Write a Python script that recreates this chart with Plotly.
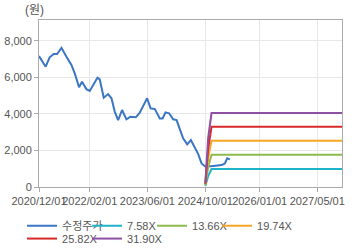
import plotly.graph_objects as go

price_dates = ["2020-12-01","2021-01-26","2021-03-01","2021-04-04","2021-05-02","2021-06-08",
               "2021-07-20","2021-08-31","2021-09-28","2021-11-03","2021-11-28","2022-01-04",
               "2022-02-01","2022-03-07","2022-04-07","2022-04-26","2022-05-30","2022-07-05",
               "2022-08-03","2022-08-31","2022-09-28","2022-10-31","2022-12-07","2023-01-10",
               "2023-02-24","2023-03-29","2023-05-02","2023-05-30","2023-06-28","2023-08-03",
               "2023-09-14","2023-10-07","2023-11-01","2023-12-01","2024-01-04","2024-02-02",
               "2024-03-28","2024-05-01","2024-06-01","2024-07-05","2024-08-02","2024-08-30",
               "2024-10-03","2024-12-06","2025-02-15","2025-03-14","2025-04-03","2025-04-26"]
price_values = [7160,6575,7090,7270,7270,7610,
                7120,6670,6210,5450,5750,5350,
                5250,5630,5970,5880,4880,5080,
                4850,4110,3660,4210,3700,3840,
                3810,4060,4535,4850,4300,4260,
                3750,3750,4080,4030,3700,3660,
                2660,2330,2570,2170,1800,1290,
                1110,1150,1200,1290,1570,1510]

band_dates = ["2024-10-01","2024-10-25","2024-11-22","2027-11-25"]
band_names = ["7.58X","13.66X","19.74X","25.82X","31.90X"]
band_7_58 = [50, 600, 985, 985]
band_13_66 = [95, 1100, 1765, 1765]
band_19_74 = [140, 1600, 2530, 2530]
band_25_82 = [180, 2100, 3295, 3295]
band_31_90 = [225, 2700, 4045, 4045]
band_values = [band_7_58, band_13_66, band_19_74, band_25_82, band_31_90]
band_colors = ["#1db3c9", "#8dbb4e", "#f6a623", "#d9292a", "#8e50a3"]
band_legend_rows = ["legend", "legend", "legend", "legend2", "legend2"]

x_tickvals = ["2020-12-01","2022-02-01","2023-06-01","2024-10-01","2026-01-01","2027-05-01"]
x_ticktext = ["2020/12/01","2022/02/01","2023/06/01","2024/10/01","2026/01/01","2027/05/01"]
y_tickvals = [0, 2000, 4000, 6000, 8000]

FONT = "Liberation Sans, Arial, Noto Sans CJK KR, sans-serif"

fig = go.Figure()
fig.add_trace(go.Scatter(x=price_dates, y=price_values, mode="lines", name="수정주가",
                         line=dict(color="#3a76c4", width=2), legend="legend"))
for name, vals, col, lg in zip(band_names, band_values, band_colors, band_legend_rows):
    fig.add_trace(go.Scatter(x=band_dates, y=vals, mode="lines", name=name,
                             line=dict(color=col, width=2), legend=lg))
# invisible spacer entries so the last real legend entry in each row is not clipped
for lg in ["legend", "legend2"]:
    fig.add_trace(go.Scatter(x=[None], y=[None], mode="lines", name=" ", legend=lg,
                             line=dict(color="rgba(0,0,0,0)", width=0),
                             hoverinfo="skip", showlegend=True))

legend_common = dict(orientation="h", x=-0.056, xanchor="left", yanchor="top",
                     entrywidth=20, font=dict(size=11, color="#555"),
                     itemwidth=30, tracegroupgap=0, bgcolor="rgba(0,0,0,0)",
                     itemclick=False, itemdoubleclick=False)

fig.update_layout(
    width=360, height=248,
    margin=dict(l=39, r=18, t=20, b=61, autoexpand=False),
    paper_bgcolor="white", plot_bgcolor="white",
    font=dict(family=FONT, size=11, color="#555"),
    showlegend=True,
    legend=dict(y=-0.145, **legend_common),
    legend2=dict(y=-0.222, **legend_common),
    xaxis=dict(type="date", range=["2020-12-01", "2027-11-25"],
               tickvals=x_tickvals, ticktext=x_ticktext, tickangle=0, automargin=False,
               showgrid=True, gridcolor="#e8e8e8", gridwidth=1,
               showline=True, linecolor="#aaaaaa", linewidth=1, mirror=True,
               ticks="outside", ticklen=4, tickcolor="#aaaaaa",
               zeroline=False, tickfont=dict(size=11, color="#555")),
    yaxis=dict(range=[0, 9130], tickvals=y_tickvals, tickformat=",d", automargin=False,
               showgrid=True, gridcolor="#e8e8e8", gridwidth=1,
               showline=True, linecolor="#aaaaaa", linewidth=1, mirror=True,
               ticks="outside", ticklen=4, tickcolor="#aaaaaa",
               zeroline=False, tickfont=dict(size=11, color="#555")),
    annotations=[dict(text="(원)", xref="paper", yref="paper", x=-0.015, y=1.0,
                      xanchor="center", yanchor="bottom", yshift=1, showarrow=False,
                      font=dict(size=12, color="#555"))],
)

fig.write_html("out.html")
